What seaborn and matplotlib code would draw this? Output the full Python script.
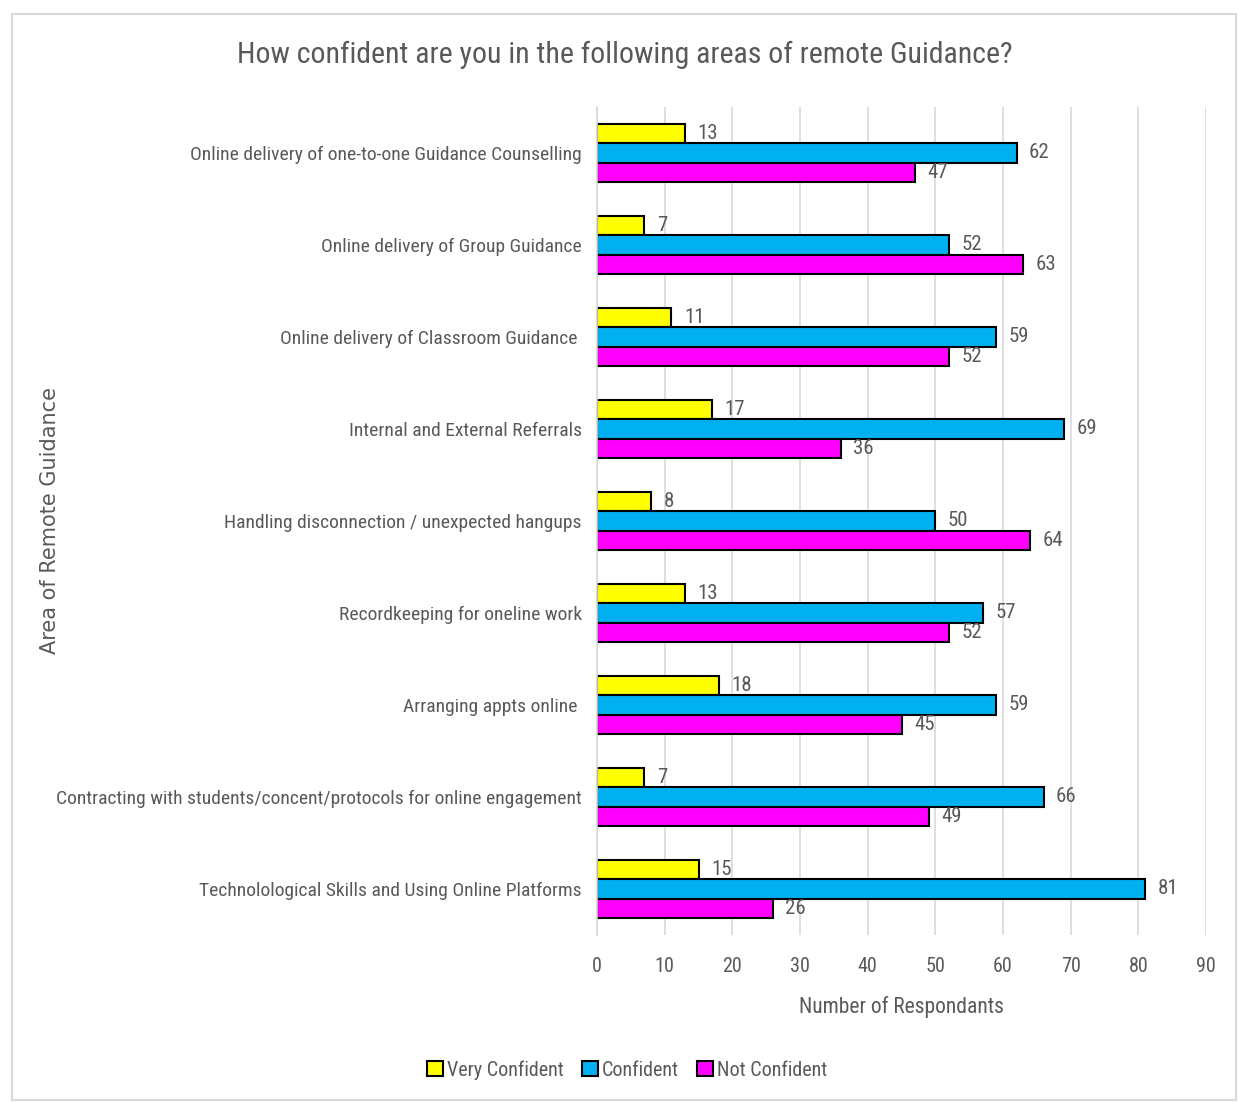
import matplotlib
matplotlib.use("Agg")
import matplotlib.pyplot as plt
import seaborn as sns
import pandas as pd
from matplotlib import font_manager
from matplotlib.patches import Rectangle, Patch

categories = [
    "Online delivery of one-to-one Guidance Counselling",
    "Online delivery of Group Guidance",
    "Online delivery of Classroom Guidance ",
    "Internal and External Referrals",
    "Handling disconnection / unexpected hangups",
    "Recordkeeping for oneline work",
    "Arranging appts online ",
    "Contracting with students/concent/protocols for online engagement",
    "Technolological Skills and Using Online Platforms",
]
series_names = ["Very Confident", "Confident", "Not Confident"]
very_confident = [13, 7, 11, 17, 8, 13, 18, 7, 15]
confident = [62, 52, 59, 69, 50, 57, 59, 66, 81]
not_confident = [47, 63, 52, 36, 64, 52, 45, 49, 26]
x_ticks = [0, 10, 20, 30, 40, 50, 60, 70, 80, 90]
colors = ["#FFFF00", "#00B0F0", "#FF00FF"]

rows = []
for name, vals in zip(series_names, [very_confident, confident, not_confident]):
    for c, v in zip(categories, vals):
        rows.append({"Area": c, "Series": name, "Value": v})
df = pd.DataFrame(rows)

sns.set_theme(style="white")
names = {f.name for f in font_manager.fontManager.ttflist}
cands = ["Roboto Condensed", "Open Sans Condensed", "Liberation Sans Narrow", "Roboto", "Liberation Sans"]
narrow = next((n for n in cands if n in names), "DejaVu Sans")
condensed = narrow in ("Roboto Condensed", "Open Sans Condensed", "Liberation Sans Narrow")
plt.rcParams["font.family"] = [narrow, "DejaVu Sans"]
gray = "#595959"
lab_fs = 14 if condensed else 12.5

fig = plt.figure(figsize=(12.38, 11.02), dpi=100)
ax = fig.add_axes([597/1238, 1-935/1102, (1206-597)/1238, (935-107)/1102])

sns.barplot(data=df, y="Area", x="Value", hue="Series", order=categories,
            hue_order=series_names, palette=colors, orient="h", width=0.63,
            edgecolor="black", linewidth=1.5, saturation=1, ax=ax, legend=False)

for cont in ax.containers:
    ax.bar_label(cont, padding=9, fontsize=15, color=gray)

ax.set_xlim(0, 90)
ax.set_xticks(x_ticks)
ax.set_ylim(8.5, -0.5)
ax.xaxis.grid(True, color="#D9D9D9", linewidth=1.2)
ax.set_axisbelow(True)
for s in ["top", "right", "bottom"]:
    ax.spines[s].set_visible(False)
ax.spines["left"].set_color("#D9D9D9")
ax.spines["left"].set_linewidth(1.2)
ax.tick_params(axis="x", labelsize=14.5, labelcolor=gray, length=0, pad=16)
ax.tick_params(axis="y", labelsize=lab_fs, labelcolor=gray, length=0, pad=11)
ax.set_xlabel("Number of Respondants", fontsize=15.5, color=gray, labelpad=14)
ax.set_ylabel("")

fig.text(50/1238, 1-521/1102, "Area of Remote Guidance", rotation=90, fontsize=15,
         color=gray, ha="center", va="center", family="DejaVu Sans")
fig.text(625/1238, 1-55/1102, "How confident are you in the following areas of remote Guidance?",
         fontsize=21.5 if condensed else 17, color=gray, ha="center", va="center")

handles = [Patch(facecolor=c, edgecolor="black", linewidth=1.5) for c in colors]
fig.legend(handles, series_names, loc="center", bbox_to_anchor=(627/1238, 1-1070/1102),
           ncol=3, frameon=False, fontsize=14.5, labelcolor=gray, handlelength=0.8,
           handleheight=0.8, handletextpad=0.2, columnspacing=0.9)

fig.add_artist(Rectangle((12/1238, 2/1102), (1236-12)/1238, (1100-14)/1102,
                         transform=fig.transFigure, fill=False, edgecolor="#D9D9D9", linewidth=1.5))

fig.savefig("out.png", dpi=100)
